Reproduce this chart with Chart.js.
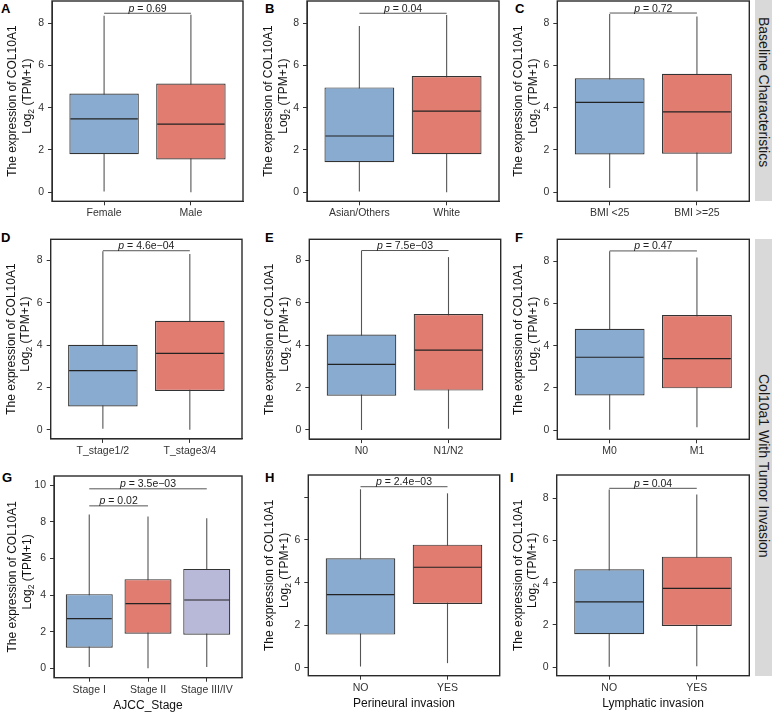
<!DOCTYPE html>
<html>
<head>
<meta charset="utf-8">
<script src="https://cdn.jsdelivr.net/npm/chart.js@4.4.1/dist/chart.umd.min.js"></script>
<style>
html,body{margin:0;padding:0;background:#fff;}
#wrap{position:relative;width:772px;height:712px;overflow:hidden;font-family:'Liberation Sans',Arial,Helvetica,sans-serif;background:#fff;}
#wrap canvas{position:absolute;}
.lbl{position:absolute;font-weight:bold;font-size:13px;line-height:1;color:#000;}
.strip{position:absolute;background:#D9D9D9;}
.strip span{position:absolute;left:0;width:17px;writing-mode:vertical-rl;font-size:14px;line-height:17px;color:#1a1a1a;white-space:nowrap;text-align:center;}
</style>
</head>
<body>
<div id="wrap">
  <div class="lbl" style="left:1px;top:2px;">A</div>
  <div class="lbl" style="left:265px;top:2px;">B</div>
  <div class="lbl" style="left:515px;top:2px;">C</div>
  <div class="lbl" style="left:1px;top:231px;">D</div>
  <div class="lbl" style="left:265px;top:231px;">E</div>
  <div class="lbl" style="left:515px;top:231px;">F</div>
  <div class="lbl" style="left:2px;top:471px;">G</div>
  <div class="lbl" style="left:265px;top:471px;">H</div>
  <div class="lbl" style="left:510px;top:471px;">I</div>
  <div class="strip" style="left:755px;top:0px;width:17px;height:201px;"><span id="s1">Baseline Characteristics</span></div>
  <div class="strip" style="left:755px;top:239px;width:17px;height:437px;"><span id="s2">Col10a1 With Tumor Invasion</span></div>
</div>
<script>
const FONT = "'Liberation Sans', Arial, Helvetica, sans-serif";
const FILLS = ['#89ABCF', '#E07C70', '#B8B9D9'];

// ---------- data ----------
// A: gender
const catsA = ['Female', 'Male'];
const loA  = [0.03, 0.00];
const q1A  = [1.80, 1.55];
const medA = [3.47, 3.22];
const q3A  = [4.67, 5.14];
const hiA  = [8.35, 8.40];
const pA   = [[0, 1, 8.47, '0.69']];

// B: race
const catsB = ['Asian/Others', 'White'];
const loB  = [0.03, 0.00];
const q1B  = [1.42, 1.80];
const medB = [2.66, 3.84];
const q3B  = [4.96, 5.50];
const hiB  = [7.87, 8.39];
const pB   = [[0, 1, 8.47, '0.04']];

// C: BMI
const catsC = ['BMI <25', 'BMI >=25'];
const loC  = [0.20, 0.05];
const q1C  = [1.79, 1.82];
const medC = [4.25, 3.80];
const q3C  = [5.39, 5.61];
const hiC  = [8.43, 8.32];
const pC   = [[0, 1, 8.48, '0.72']];

// D: T stage
const catsD = ['T_stage1/2', 'T_stage3/4'];
const loD  = [0.05, 0.00];
const q1D  = [1.10, 1.83];
const medD = [2.80, 3.61];
const q3D  = [4.02, 5.15];
const hiD  = [8.44, 8.30];
const pD   = [[0, 1, 8.46, '4.6e\u221204']];

// E: N stage
const catsE = ['N0', 'N1/N2'];
const loE  = [0.00, 0.06];
const q1E  = [1.62, 1.86];
const medE = [3.10, 3.77];
const q3E  = [4.51, 5.47];
const hiE  = [8.46, 8.16];
const pE   = [[0, 1, 8.47, '7.5e\u221203']];

// F: M stage
const catsF = ['M0', 'M1'];
const loF  = [0.02, 0.14];
const q1F  = [1.64, 1.98];
const medF = [3.45, 3.39];
const q3F  = [4.80, 5.45];
const hiF  = [8.46, 8.17];
const pF   = [[0, 1, 8.48, '0.47']];

// G: AJCC stage
const catsG = ['Stage I', 'Stage II', 'Stage III/IV'];
const loG  = [0.07, 0.00, 0.07];
const q1G  = [1.13, 1.89, 1.84];
const medG = [2.71, 3.53, 3.73];
const q3G  = [4.05, 4.87, 5.43];
const hiG  = [8.40, 8.29, 8.20];
const pG   = [[0, 1, 8.87, '0.02'], [0, 2, 9.80, '3.5e\u221203']];

// H: perineural invasion
const catsH = ['NO', 'YES'];
const loH  = [0.06, 0.22];
const q1H  = [1.56, 3.00];
const medH = [3.44, 4.72];
const q3H  = [5.14, 5.78];
const hiH  = [8.38, 8.19];
const pH   = [[0, 1, 8.50, '2.4e\u221203']];

// I: lymphatic invasion
const catsI = ['NO', 'YES'];
const loI  = [0.02, 0.05];
const q1I  = [1.56, 1.95];
const medI = [3.09, 3.73];
const q3I  = [4.63, 5.23];
const hiI  = [8.41, 8.17];
const pI   = [[0, 1, 8.46, '0.04']];

// tick labels
const yTicks       = [0, 2, 4, 6, 8];
const yTickLabels  = ['0', '2', '4', '6', '8'];
const yTickLabelsH = ['0', '2', '4', '6', ''];
const yTicksG      = [0, 2, 4, 6, 8, 10];
const yTickLabelsG = ['0', '2', '4', '6', '8', '10'];

const yTitle1 = 'The expression of COL10A1';
const yTitle2a = 'Log', yTitle2sub = '2', yTitle2b = ' (TPM+1)';

// ---------- layout (canvas box, plot rect in page px) ----------
const panels = [
  {cats:catsA, lo:loA, q1:q1A, med:medA, q3:q3A, hi:hiA, p:pA, yt:yTicks, yl:yTickLabels, yMin:-0.43, yMax:9.05,
   box:[0,0,252,230], plot:[52,1,243,201.3], t1:36, t2:21.5},
  {cats:catsB, lo:loB, q1:q1B, med:medB, q3:q3B, hi:hiB, p:pB, yt:yTicks, yl:yTickLabels, yMin:-0.43, yMax:9.05,
   box:[252,0,253,230], plot:[307,1,499,201.3], t1:35, t2:20.5},
  {cats:catsC, lo:loC, q1:q1C, med:medC, q3:q3C, hi:hiC, p:pC, yt:yTicks, yl:yTickLabels, yMin:-0.43, yMax:9.05,
   box:[505,0,250,230], plot:[557.3,1,749.3,201.3], t1:35, t2:20.5},
  {cats:catsD, lo:loD, q1:q1D, med:medD, q3:q3D, hi:hiD, p:pD, yt:yTicks, yl:yTickLabels, yMin:-0.43, yMax:9.0,
   box:[0,230,252,236], plot:[50.7,239.3,242,438.9], t1:36, t2:21.5},
  {cats:catsE, lo:loE, q1:q1E, med:medE, q3:q3E, hi:hiE, p:pE, yt:yTicks, yl:yTickLabels, yMin:-0.43, yMax:9.0,
   box:[252,230,253,236], plot:[309.3,239.3,500.7,439.1], t1:36, t2:21.5},
  {cats:catsF, lo:loF, q1:q1F, med:medF, q3:q3F, hi:hiF, p:pF, yt:yTicks, yl:yTickLabels, yMin:-0.43, yMax:9.03,
   box:[505,230,250,236], plot:[557.3,239.3,749.3,439.3], t1:35, t2:20.5},
  {cats:catsG, lo:loG, q1:q1G, med:medG, q3:q3G, hi:hiG, p:pG, yt:yTicksG, yl:yTickLabelsG, yMin:-0.51, yMax:10.5,
   box:[0,466,252,246], plot:[54,476,242,677.7], t1:38, t2:23.5, xTitle:'AJCC_Stage'},
  {cats:catsH, lo:loH, q1:q1H, med:medH, q3:q3H, hi:hiH, p:pH, yt:yTicks, yl:yTickLabelsH, yMin:-0.37, yMax:9.05,
   box:[252,466,253,246], plot:[308.3,475,499.7,675.7], t1:35, t2:20.5, xTitle:'Perineural invasion'},
  {cats:catsI, lo:loI, q1:q1I, med:medI, q3:q3I, hi:hiI, p:pI, yt:yTicks, yl:yTickLabels, yMin:-0.40, yMax:9.09,
   box:[505,466,250,246], plot:[556.7,475,749.3,675.7], t1:35, t2:20.5, xTitle:'Lymphatic invasion'}
];

function makePlugin(P) {
  return {
    id: 'boxPanel',
    beforeDatasetsDraw(chart) {
      const ctx = chart.ctx, xs = chart.scales.x, ys = chart.scales.y;
      ctx.save();
      ctx.strokeStyle = '#555';
      ctx.lineWidth = 1.1;
      P.cats.forEach((c, i) => {
        const x = xs.getPixelForValue(i);
        ctx.beginPath();
        ctx.moveTo(x, ys.getPixelForValue(P.lo[i]));
        ctx.lineTo(x, ys.getPixelForValue(P.hi[i]));
        ctx.stroke();
      });
      ctx.restore();
    },
    afterDatasetsDraw(chart) {
      const ctx = chart.ctx, xs = chart.scales.x, ys = chart.scales.y;
      const meta = chart.getDatasetMeta(0);
      ctx.save();
      ctx.strokeStyle = '#222';
      ctx.lineWidth = 1.2;
      P.cats.forEach((c, i) => {
        const bar = meta.data[i];
        const y = ys.getPixelForValue(P.med[i]);
        ctx.beginPath();
        ctx.moveTo(bar.x - bar.width / 2 + 1, y);
        ctx.lineTo(bar.x + bar.width / 2 - 1, y);
        ctx.stroke();
      });
      // p-value brackets
      P.p.forEach(([a, b, yv, txt]) => {
        const x1 = xs.getPixelForValue(a), x2 = xs.getPixelForValue(b);
        const y = ys.getPixelForValue(yv);
        ctx.strokeStyle = '#555';
        ctx.lineWidth = 1;
        ctx.beginPath();
        ctx.moveTo(x1, y); ctx.lineTo(x2, y);
        ctx.stroke();
        const fi = `italic 10.5px ${FONT}`, fn = `10.5px ${FONT}`;
        ctx.font = fi; const w1 = ctx.measureText('p').width;
        ctx.font = fn; const rest = ' = ' + txt; const w2 = ctx.measureText(rest).width;
        let x0 = (x1 + x2) / 2 - (w1 + w2) / 2;
        ctx.fillStyle = '#222';
        ctx.textBaseline = 'alphabetic';
        ctx.textAlign = 'left';
        ctx.font = fi; ctx.fillText('p', x0, y - 1.5);
        ctx.font = fn; ctx.fillText(rest, x0 + w1, y - 1.5);
      });
      ctx.restore();
    },
    afterDraw(chart) {
      const ctx = chart.ctx, a = chart.chartArea;
      ctx.save();
      ctx.strokeStyle = '#2a2a2a';
      ctx.lineWidth = 1.4;
      ctx.strokeRect(a.left, a.top, a.right - a.left, a.bottom - a.top);
      // y-axis title
      const cy = (a.top + a.bottom) / 2;
      ctx.fillStyle = '#111';
      ctx.textBaseline = 'alphabetic';
      ctx.save();
      ctx.translate(a.left - P.t1, cy);
      ctx.rotate(-Math.PI / 2);
      ctx.font = `12px ${FONT}`;
      ctx.textAlign = 'center';
      ctx.fillText(yTitle1, 0, 0);
      ctx.restore();
      ctx.save();
      ctx.translate(a.left - P.t2, cy - 5);
      ctx.rotate(-Math.PI / 2);
      ctx.textAlign = 'left';
      ctx.font = `12px ${FONT}`;
      const wa = ctx.measureText(yTitle2a).width, wb = ctx.measureText(yTitle2b).width;
      ctx.font = `8.5px ${FONT}`;
      const ws = ctx.measureText(yTitle2sub).width;
      let sx = -(wa + ws + wb) / 2;
      ctx.font = `12px ${FONT}`; ctx.fillText(yTitle2a, sx, 0);
      ctx.font = `8.5px ${FONT}`; ctx.fillText(yTitle2sub, sx + wa, 3);
      ctx.font = `12px ${FONT}`; ctx.fillText(yTitle2b, sx + wa + ws, 0);
      ctx.restore();
      // x-axis title
      if (P.xTitle) {
        ctx.font = `12px ${FONT}`;
        ctx.textAlign = 'center';
        ctx.fillStyle = '#111';
        ctx.fillText(P.xTitle, (a.left + a.right) / 2, a.bottom + 31);
      }
      ctx.restore();
    }
  };
}

const wrap = document.getElementById('wrap');
panels.forEach(P => {
  const [bx, by, bw, bh] = P.box;
  const cv = document.createElement('canvas');
  cv.width = bw; cv.height = bh;
  cv.style.left = bx + 'px'; cv.style.top = by + 'px';
  cv.style.width = bw + 'px'; cv.style.height = bh + 'px';
  wrap.appendChild(cv);
  const pl = P.plot[0] - bx, pt = P.plot[1] - by, pr = P.plot[2] - bx, pb = P.plot[3] - by;
  const n = P.cats.length;
  const tickFont = {family: FONT, size: 10.5};
  new Chart(cv, {
    type: 'bar',
    data: {
      datasets: [{
        data: P.cats.map((c, i) => ({x: i, y: [P.q1[i], P.q3[i]]})),
        backgroundColor: P.cats.map((c, i) => FILLS[i]),
        borderColor: '#333',
        borderWidth: 1.2,
        borderSkipped: false,
        barPercentage: 0.8,
        categoryPercentage: 1.0
      }]
    },
    options: {
      responsive: false,
      animation: false,
      events: [],
      layout: {padding: {left: 0, top: pt, right: bw - pr, bottom: 0}},
      plugins: {legend: {display: false}, tooltip: {enabled: false}},
      scales: {
        x: {
          type: 'linear', offset: false, min: -0.6, max: n - 0.4,
          afterBuildTicks(s) { s.ticks = P.cats.map((c, i) => ({value: i})); },
          afterFit(s) { s.height = bh - pb; s.paddingLeft = 0; s.paddingRight = 0; },
          ticks: {callback: (v, i) => P.cats[i], autoSkip: false, maxRotation: 0, minRotation: 0, padding: 2, color: '#333', font: tickFont},
          grid: {offset: false, drawOnChartArea: false, drawTicks: true, tickLength: 4, color: '#333', lineWidth: 1},
          border: {display: true, color: '#333', width: 1}
        },
        y: {
          type: 'linear', min: P.yMin, max: P.yMax,
          afterBuildTicks(s) { s.ticks = P.yt.map(v => ({value: v})); },
          afterFit(s) { s.width = pl; s.paddingTop = 0; s.paddingBottom = 0; },
          ticks: {callback: (v, i) => P.yl[i], padding: 4, color: '#333', font: tickFont},
          grid: {drawOnChartArea: false, drawTicks: true, tickLength: 4, color: '#333', lineWidth: 1},
          border: {display: true, color: '#333', width: 1}
        }
      }
    },
    plugins: [makePlugin(P)]
  });
});

// strip labels centred where they sit in the figure
function placeStrip(id, stripTop, centerY) {
  const s = document.getElementById(id);
  const h = s.getBoundingClientRect().height;
  s.style.top = (centerY - stripTop - h / 2) + 'px';
}
placeStrip('s1', 0, 92);
placeStrip('s2', 239, 466);
</script>
</body>
</html>
